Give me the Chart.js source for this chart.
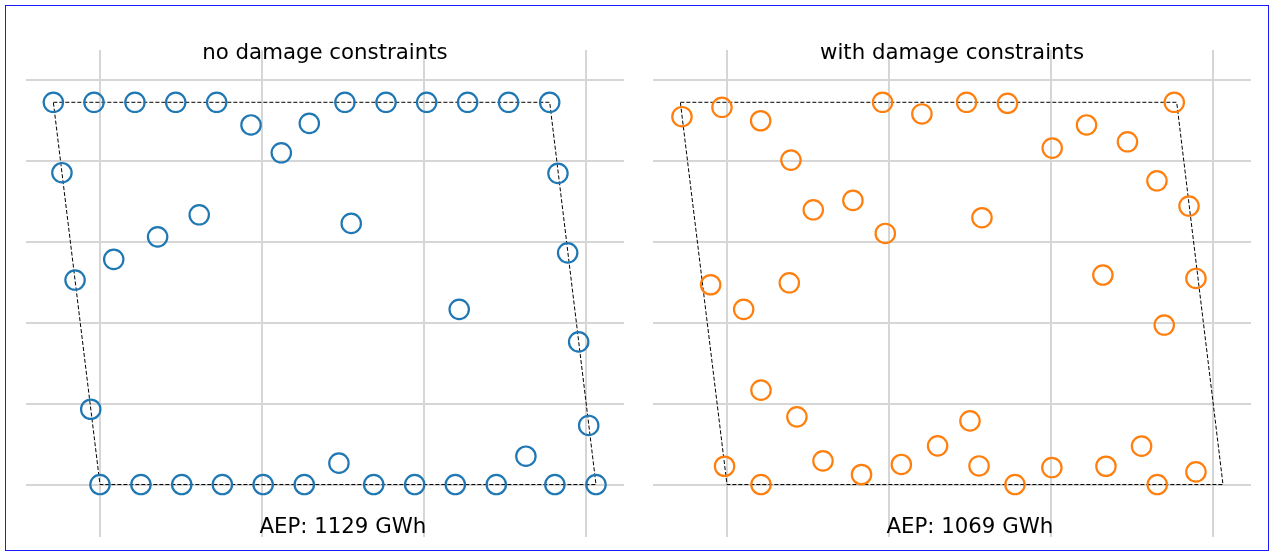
<!DOCTYPE html>
<html>
<head>
<meta charset="utf-8">
<title>Wind farm layouts</title>
<script src="https://cdn.jsdelivr.net/npm/chart.js@4/dist/chart.umd.min.js"></script>
<style>
  html, body { margin: 0; padding: 0; background: #ffffff; }
  body { width: 1271px; height: 551px; position: relative; overflow: hidden; }
  .frame { position: absolute; left: 5px; top: 5px; width: 1264px; height: 546px;
           box-sizing: border-box; border: 1px solid #1a1aff; }
  canvas { position: absolute; top: 0; }
  #left { left: 0; }
  #right { left: 627px; }
</style>
</head>
<body>
<div class="frame"></div>
<canvas id="left" width="640" height="551"></canvas>
<canvas id="right" width="640" height="551"></canvas>
<script>
// Site boundary (metres), closed polygon
const boundaryX = [-288, 2778, 3064, 0, -288];
const boundaryY = [2361, 2361, 0, 0, 2361];

// Turbine positions optimised without damage constraints
const freeX = [-288, -37, 216, 468, 721, 1513, 1767, 2018, 2271, 2524, 2778,
               933, 1293, 1120, -235, 2829, 613, 356, 85, -154, 1552, 2889,
               2219, 2957, -57, 3019, 1476, 2631,
               0, 253, 505, 756, 1008, 1262, 1691, 1944, 2195, 2448, 2810, 3064];
const freeY = [2361, 2361, 2361, 2361, 2361, 2361, 2361, 2361, 2361, 2361, 2361,
               2221, 2231, 2049, 1926, 1922, 1666, 1530, 1391, 1263, 1613, 1431,
               1082, 881, 465, 365, 132, 175,
               0, 0, 0, 0, 0, 0, 0, 0, 0, 0, 0, 0];

// Turbine positions optimised with damage constraints
const constrainedX = [-278, -31, 208, 961, 1204, 1480, 1733, 2763,
                      395, 2009, 2221, 2474, 2656, 2854,
                      533, 778, 978, 1575, -101, 103, 385, 2322, 2897, 2701,
                      210, 432, 1501, 1301, 2561,
                      -15, 593, 831, 1077, 1557, 2007, 2341, 2897,
                      210, 1779, 2658];
const constrainedY = [2272, 2330, 2247, 2361, 2289, 2361, 2355, 2361,
                      2004, 2078, 2221, 2117, 1876, 1720,
                      1697, 1755, 1551, 1648, 1234, 1082, 1246, 1294, 1273, 985,
                      583, 418, 393, 239, 237,
                      113, 146, 62, 124, 115, 105, 113, 78,
                      0, 0, 0];

// Grid positions
const xTicks = [0, 1000, 2000, 3000];
const yTicks = [0, 500, 1000, 1500, 2000, 2500];

const panelTitles = ['no damage constraints', 'with damage constraints'];
const aepGWh = [1129, 1069];

// AEP note is centred on this easting
const aepAnchorX = 1500;

const toPoints = (xs, ys) => xs.map((x, i) => ({ x: x, y: ys[i] }));

function panelText(title, aep) {
  return {
    id: 'panelText',
    afterDatasetsDraw(chart) {
      const { ctx, chartArea } = chart;
      const cx = (chartArea.left + chartArea.right) / 2;
      const ax = chart.scales.x.getPixelForValue(aepAnchorX);
      ctx.save();
      ctx.fillStyle = '#000000';
      ctx.font = '21.3px "DejaVu Sans"';
      ctx.textAlign = 'center';
      ctx.textBaseline = 'alphabetic';
      ctx.fillText(title, cx, chartArea.top + 9);
      ctx.fillText('AEP: ' + aep + ' GWh', ax, chartArea.bottom - 4);
      ctx.restore();
    }
  };
}

function makePanel(canvasId, xs, ys, colour, title, aep) {
  const gridStyle = { color: '#d6d6d6', lineWidth: 2, drawTicks: false, tickLength: 0 };
  return new Chart(document.getElementById(canvasId), {
    type: 'scatter',
    data: {
      datasets: [
        {
          data: toPoints(xs, ys),
          showLine: false,
          pointStyle: 'circle',
          pointRadius: 9.7,
          pointBorderWidth: 2.2,
          pointBorderColor: colour,
          pointBackgroundColor: 'rgba(0,0,0,0)'
        },
        {
          data: toPoints(boundaryX, boundaryY),
          showLine: true,
          borderColor: '#000000',
          borderWidth: 1,
          borderDash: [4, 2],
          pointRadius: 0,
          fill: false,
          tension: 0
        }
      ]
    },
    options: {
      responsive: false,
      animation: false,
      events: [],
      layout: { padding: { left: 26, right: 16, top: 50, bottom: 14 } },
      plugins: { legend: { display: false }, tooltip: { enabled: false }, title: { display: false } },
      scales: {
        x: {
          type: 'linear', min: -457, max: 3237,
          ticks: { display: false },
          border: { display: false },
          grid: gridStyle,
          afterBuildTicks: s => { s.ticks = xTicks.map(v => ({ value: v })); }
        },
        y: {
          type: 'linear', min: -324, max: 2684,
          ticks: { display: false },
          border: { display: false },
          grid: gridStyle,
          afterBuildTicks: s => { s.ticks = yTicks.map(v => ({ value: v })); }
        }
      }
    },
    plugins: [panelText(title, aep)]
  });
}

makePanel('left', freeX, freeY, '#1f77b4', panelTitles[0], aepGWh[0]);
makePanel('right', constrainedX, constrainedY, '#ff7f0e', panelTitles[1], aepGWh[1]);
</script>
</body>
</html>
